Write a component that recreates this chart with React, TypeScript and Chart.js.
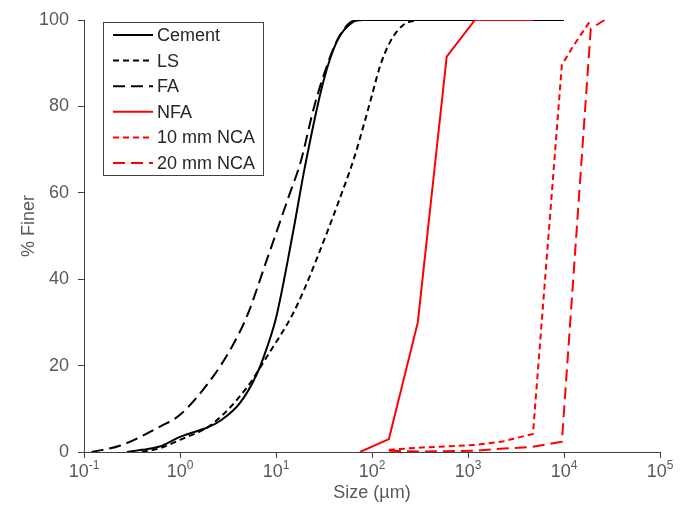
import React, { useEffect, useRef } from 'react';
import { Chart, registerables } from 'chart.js';
Chart.register(...registerables);

const FONT = '"Liberation Sans", Arial, sans-serif';
const TEXT = '#595959';
const AXIS = '#404040';

// Particle size (µm) and % finer for each material
const cementSize = [0.28, 0.4, 0.6, 1.0, 1.3, 2.0, 2.7, 4.2, 6.3, 8, 10, 15, 20, 31, 43, 63, 80, 10000];
const cementFiner = [0, 0.5, 1.2, 3.5, 4.4, 5.8, 7.4, 11.3, 18, 24, 31, 50.7, 66, 85.6, 95, 99.5, 100, 100];

const lsSize = [0.4, 0.6, 1.0, 2.2, 5, 8, 15, 20, 31, 45, 66, 100, 120, 155, 210, 290];
const lsFiner = [0, 0.8, 2.8, 6.6, 15, 22, 32, 38, 48.5, 58, 68.5, 82.6, 89, 95, 98.8, 100];

const faSize = [0.12, 0.24, 0.62, 1.0, 2.2, 3.5, 5, 8, 14, 18, 25, 36, 45, 60, 75];
const faFiner = [0, 1.5, 5.9, 8.6, 17.4, 24.5, 31.5, 44.4, 60, 67, 80, 91, 96, 99.5, 100];

const nfaSize = [75, 150, 300, 600, 1180, 2360, 4750];
const nfaFiner = [0, 3, 30, 91.5, 100, 100, 100];

const nca10Size = [150, 300, 600, 1180, 2360, 4750, 9500, 12500, 19000];
const nca10Finer = [0.5, 1, 1.3, 1.6, 2.5, 4.2, 89.6, 94, 100];

const nca20Size = [150, 300, 600, 1180, 2360, 4750, 9500, 19000, 26500];
const nca20Finer = [0.3, 0.1, 0.2, 0.3, 0.8, 1.2, 2.4, 98, 100];

const xTickPowers = [-1, 0, 1, 2, 3, 4, 5];
const yTickValues = [0, 20, 40, 60, 80, 100];
const xTitle = 'Size (µm)';
const yTitle = '% Finer';

const toPts = (xs: number[], ys: number[]) => xs.map((x, i) => ({ x, y: ys[i] }));

export default function App() {
  const ref = useRef<HTMLCanvasElement>(null);
  useEffect(() => {
    if (!ref.current) return;
    const black = '#000000';
    const red = '#FF0000';
    const smooth = { tension: 0.4, cubicInterpolationMode: 'monotone' };
    const datasets: any[] = [
      { label: 'Cement', data: toPts(cementSize, cementFiner), borderColor: black, borderDash: [], ...smooth, order: 1 },
      { label: 'LS', data: toPts(lsSize, lsFiner), borderColor: black, borderDash: [6, 4], ...smooth, order: 1 },
      { label: 'FA', data: toPts(faSize, faFiner), borderColor: black, borderDash: [12, 6], ...smooth, order: 1 },
      { label: 'NFA', data: toPts(nfaSize, nfaFiner), borderColor: red, borderDash: [], tension: 0, order: 0 },
      { label: '10 mm NCA', data: toPts(nca10Size, nca10Finer), borderColor: red, borderDash: [6, 4], tension: 0, order: 0 },
      { label: '20 mm NCA', data: toPts(nca20Size, nca20Finer), borderColor: red, borderDash: [12, 6], tension: 0, order: 0 },
    ].map((d) => ({ ...d, showLine: true, pointRadius: 0, borderWidth: 2, fill: false, backgroundColor: d.borderColor }));

    const custom = {
      id: 'customText',
      afterDraw(chart: any) {
        const ctx = chart.ctx;
        const xs = chart.scales.x;
        ctx.save();
        ctx.fillStyle = TEXT;
        // x tick labels with superscript exponents
        xTickPowers.forEach((p) => {
          const px = xs.getPixelForValue(Math.pow(10, p));
          ctx.font = `18px ${FONT}`;
          const w1 = ctx.measureText('10').width;
          const exp = String(p);
          ctx.font = `12px ${FONT}`;
          const w2 = ctx.measureText(exp).width;
          const start = px - (w1 + w2) / 2;
          ctx.textAlign = 'left';
          ctx.textBaseline = 'alphabetic';
          ctx.font = `18px ${FONT}`;
          ctx.fillText('10', start, 477);
          ctx.font = `12px ${FONT}`;
          ctx.fillText(exp, start + w1, 469);
        });
        // axis titles
        ctx.font = `18px ${FONT}`;
        ctx.textAlign = 'center';
        ctx.textBaseline = 'middle';
        ctx.fillText(xTitle, (chart.chartArea.left + chart.chartArea.right) / 2, 493);
        ctx.save();
        ctx.translate(29, 226);
        ctx.rotate(-Math.PI / 2);
        ctx.fillText(yTitle, 0, 0);
        ctx.restore();
        // legend
        const bx = 103.5, by = 22.5, bw = 160, bh = 153;
        ctx.fillStyle = '#ffffff';
        ctx.fillRect(bx, by, bw, bh);
        ctx.strokeStyle = AXIS;
        ctx.lineWidth = 1;
        ctx.setLineDash([]);
        ctx.strokeRect(bx, by, bw, bh);
        chart.data.datasets.forEach((d: any, i: number) => {
          const y = 35 + i * 25.6;
          ctx.beginPath();
          ctx.strokeStyle = d.borderColor;
          ctx.lineWidth = 2;
          ctx.setLineDash(d.borderDash || []);
          ctx.moveTo(113, y);
          ctx.lineTo(153, y);
          ctx.stroke();
          ctx.setLineDash([]);
          ctx.fillStyle = '#262626';
          ctx.font = `18px ${FONT}`;
          ctx.textAlign = 'left';
          ctx.textBaseline = 'middle';
          ctx.fillText(d.label, 157, y + 1);
        });
        ctx.restore();
      },
    };

    const chart = new Chart(ref.current, {
      type: 'scatter',
      data: { datasets },
      options: {
        animation: false,
        responsive: false,
        devicePixelRatio: 1,
        layout: { padding: { top: 20, right: 26, left: 0, bottom: 0 } },
        plugins: { legend: { display: false }, tooltip: { enabled: false } },
        scales: {
          x: {
            type: 'logarithmic',
            min: 0.1,
            max: 100000,
            afterBuildTicks: (s: any) => {
              s.ticks = xTickPowers.map((p) => ({ value: Math.pow(10, p) }));
            },
            afterFit: (s: any) => {
              s.height = 59;
            },
            ticks: { display: false },
            grid: { display: true, drawOnChartArea: false, drawTicks: true, tickLength: 6, color: AXIS },
            border: { display: true, color: AXIS, width: 1 },
          },
          y: {
            min: 0,
            max: 100,
            afterBuildTicks: (s: any) => {
              s.ticks = yTickValues.map((v) => ({ value: v }));
            },
            afterFit: (s: any) => {
              s.width = 84;
            },
            ticks: { font: { family: FONT, size: 18 }, color: TEXT, padding: 9 },
            grid: { display: true, drawOnChartArea: false, drawTicks: true, tickLength: 6, color: AXIS },
            border: { display: true, color: AXIS, width: 1 },
          },
        },
      } as any,
      plugins: [custom],
    });
    return () => chart.destroy();
  }, []);

  return (
    <div style={{ position: 'absolute', left: 0, top: 0, width: 686, height: 511, background: '#fff' }}>
      <canvas ref={ref} width={686} height={511} style={{ display: 'block' }} />
    </div>
  );
}
